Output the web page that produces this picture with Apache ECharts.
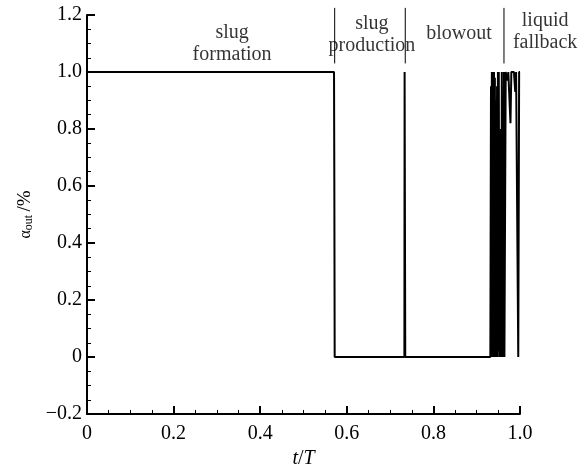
<!DOCTYPE html>
<html>
<head>
<meta charset="utf-8">
<script src="https://cdn.jsdelivr.net/npm/echarts@6/dist/echarts.min.js"></script>
<style>
  html, body { margin: 0; padding: 0; background: #fff; }
  #chart { width: 587px; height: 467px; }
</style>
</head>
<body>
<div id="chart"></div>
<script>
// t/T values and gas fraction at outlet
const tSlug = [0, 0.5705, 0.5712, 0.572, 0.733, 0.7335, 0.735, 0.9315];
const aSlug = [1, 1, 0.62, 0, 0, 1.0, 0, 0];

const tBurst = [0.932, 0.933, 0.934, 0.935, 0.936, 0.937, 0.938, 0.939, 0.940, 0.941,
  0.942, 0.943, 0.944, 0.945, 0.946, 0.947, 0.948, 0.949, 0.950, 0.951,
  0.952, 0.953, 0.955, 0.956, 0.957, 0.958, 0.959, 0.960, 0.962, 0.963,
  0.964, 0.966, 0.967, 0.969, 0.971, 0.973, 0.976, 0.978, 0.980, 0.983,
  0.986, 0.989, 0.991, 0.993, 0.995, 0.996, 0.997, 0.998, 1.0];
const aBurst = [0, 0.95, 0.02, 1.0, 0.0, 0.45, 1.0, 0.0, 1.0, 0.05,
  0.98, 0.0, 0.9, 0.0, 0.25, 0.95, 0.0, 1.0, 0.02, 1.0,
  0.35, 0.0, 0.0, 0.8, 0.0, 1.0, 0.15, 0.0, 0.0, 1.0,
  0.0, 0.0, 1.0, 1.0, 0.97, 1.0, 1.0, 0.82, 1.0, 1.0,
  1.0, 0.93, 1.0, 1.0, 1.0, 0.0, 0.0, 1.0, 1.0];

const yTicks = [-0.2, 0, 0.2, 0.4, 0.6, 0.8, 1.0, 1.2];
const xTicks = [0, 0.2, 0.4, 0.6, 0.8, 1.0];

// stage names and where they sit
const stageNames = ['slug\nformation', 'slug\nproduction', 'blowout', 'liquid\nfallback'];
const stageX = [0.335, 0.658, 0.859, 1.058];
const stageY = [1.098, 1.13, 1.135, 1.14];
const dividerX = [0.572, 0.735, 0.963];
const dividerY = [1.03, 1.225];

const font = 'Liberation Serif';

let chart;

window.onload = init;

function init() {
    chart = echarts.init(document.getElementById('chart'));

    let curve = tSlug.map((t, i) => [t, aSlug[i]])
        .concat(tBurst.map((t, i) => [t, aBurst[i]]));

    let dividers = dividerX.map(x => ({
        type: 'line',
        data: dividerY.map(y => [x, y]),
        symbol: 'none',
        clip: false,
        silent: true,
        lineStyle: { color: '#000', width: 1 }
    }));

    let options = {
        animation: false,
        backgroundColor: '#fff',
        grid: { left: 87, right: 67, top: 15, bottom: 53, outerBoundsMode: 'none', containLabel: false },
        xAxis: {
            type: 'value',
            min: 0, max: 1, interval: 0.2,
            name: '{i|t}{n|/}{i|T}',
            nameLocation: 'middle',
            nameGap: 34,
            nameTextStyle: {
                rich: {
                    i: { fontFamily: font, fontStyle: 'italic', fontSize: 20, color: '#000' },
                    n: { fontFamily: font, fontSize: 20, color: '#000' }
                }
            },
            axisLine: { onZero: false, lineStyle: { color: '#000', width: 2 } },
            axisTick: { inside: true, length: 8, lineStyle: { color: '#000', width: 2 } },
            minorTick: { show: true, splitNumber: 4, length: 4, lineStyle: { color: '#000', width: 1 } },
            splitLine: { show: false },
            axisLabel: {
                fontFamily: font, fontSize: 20, color: '#000', margin: 10,
                formatter: v => v === 0 ? '0' : v.toFixed(1)
            }
        },
        yAxis: {
            type: 'value',
            min: -0.2, max: 1.2, interval: 0.2,
            name: '{a|α}{s|out} {b|/%}',
            nameLocation: 'middle',
            nameRotate: 90,
            nameGap: 50,
            nameTextStyle: {
                rich: {
                    a: { fontFamily: font, fontSize: 16, color: '#000' },
                    s: { fontFamily: font, fontSize: 12, color: '#000', verticalAlign: 'bottom', padding: [6, 0, 0, 0] },
                    b: { fontFamily: font, fontSize: 19, color: '#000' }
                }
            },
            axisLine: { lineStyle: { color: '#000', width: 2 } },
            axisTick: { inside: true, length: 8, lineStyle: { color: '#000', width: 2 } },
            minorTick: { show: true, splitNumber: 4, length: 4, lineStyle: { color: '#000', width: 1 } },
            splitLine: { show: false },
            axisLabel: {
                fontFamily: font, fontSize: 20, color: '#000', margin: 5,
                formatter: v => v === 0 ? '0' : (v < 0 ? '\u2212' + (-v).toFixed(1) : v.toFixed(1))
            }
        },
        series: [
            {
                type: 'line',
                data: curve,
                symbol: 'none',
                silent: true,
                lineStyle: { color: '#000', width: 2 }
            },
            {
                type: 'scatter',
                data: stageNames.map((n, i) => [stageX[i], stageY[i], n]),
                symbolSize: 0,
                clip: false,
                silent: true,
                label: {
                    show: true,
                    position: 'inside',
                    formatter: p => p.value[2],
                    fontFamily: font,
                    fontSize: 20,
                    lineHeight: 22,
                    color: '#000',
                    align: 'center'
                }
            }
        ].concat(dividers)
    };

    chart.setOption(options);
}
</script>
</body>
</html>
